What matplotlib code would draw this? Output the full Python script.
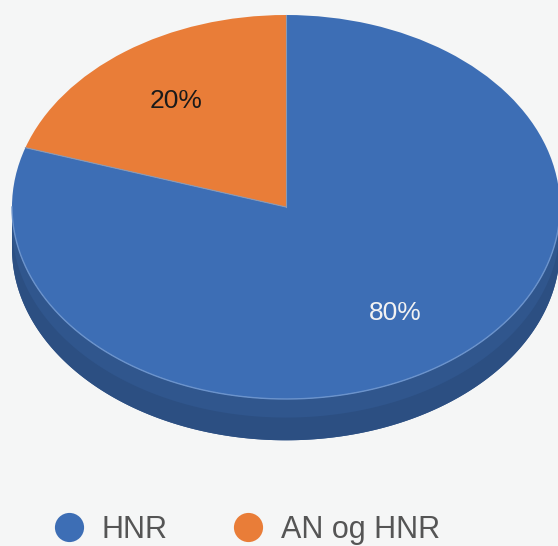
import matplotlib
matplotlib.use("Agg")
import matplotlib.pyplot as plt
import matplotlib.colors as mcolors
from matplotlib.lines import Line2D
import numpy as np

# data
labels = ["HNR", "AN og HNR"]
values = [80, 20]
colors = ["#3d6eb5", "#e97d38"]
pct_colors = ["#f2f2f2", "#1a1a1a"]

bg = "#f5f6f6"
depth = 0.215  # side height, in units of the vertical radius

fig = plt.figure(figsize=(5.58, 5.46), dpi=100, facecolor=bg)
ax = fig.add_axes([0, 0, 1, 1])
ax.set_facecolor(bg)

wedges, texts, autotexts = ax.pie(
    values, colors=colors, startangle=90, counterclock=False,
    autopct="%d%%", pctdistance=0.68,
    wedgeprops=dict(edgecolor="none", zorder=3),
    textprops=dict(fontsize=19, family="Liberation Sans"))

for t, c in zip(autotexts, pct_colors):
    t.set_color(c)
    t.set_zorder(5)


def darken(c, f):
    r, g, b = mcolors.to_rgb(c)
    return (r * f, g * f, b * f)


# side of the pie, only the front half (sin < 0) is visible
for w, c in zip(wedges, colors):
    t = np.radians(np.linspace(w.theta1, w.theta2, 600))
    front = np.sin(t) <= 0
    if not front.any():
        continue
    idx = np.where(front)[0]
    splits = np.where(np.diff(idx) > 1)[0] + 1
    for seg in np.split(idx, splits):
        ts = t[seg]
        xs = np.cos(ts)
        ys = np.sin(ts)
        px = np.concatenate([xs, xs[::-1]])
        py = np.concatenate([ys, ys[::-1] - depth])
        ax.fill(px, py, color=darken(c, 0.78), zorder=1, lw=0)
        # darker lower band
        py2 = np.concatenate([ys - depth * 0.45, ys[::-1] - depth])
        ax.fill(px, py2, color=darken(c, 0.72), zorder=2, lw=0)

# light rim on the front edge of the top face
tt = np.radians(np.linspace(180, 360, 300))
ax.plot(np.cos(tt), np.sin(tt), color="#6b93cc", lw=1.0, zorder=4)

# thin separators between slices
for w in wedges:
    a = np.radians(w.theta1)
    ax.plot([0, np.cos(a)], [0, np.sin(a)], color="#8a9ab5", lw=0.8, zorder=4)

ax.set_aspect("auto")
ax.set_xlim(-286 / 274, 272 / 274)
ax.set_ylim(-(546 - 207) / 192, 207 / 192)
ax.axis("off")

handles = [Line2D([], [], marker="o", linestyle="none", markersize=21,
                  markerfacecolor=c, markeredgecolor="none") for c in colors]
leg = fig.legend(handles, labels, loc="center left", bbox_to_anchor=(0.097, 0.03),
                 ncol=2, frameon=False, handlelength=1.0, handletextpad=0.55,
                 columnspacing=2.15, borderpad=0, borderaxespad=0,
                 prop=dict(family="Liberation Sans", size=22))
for t in leg.get_texts():
    t.set_color("#555555")

fig.savefig("out.png", dpi=100, facecolor=bg)
